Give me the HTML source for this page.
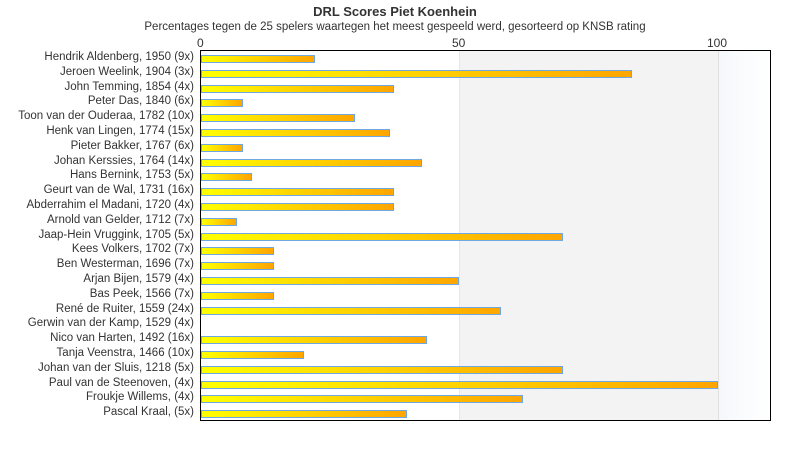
<!DOCTYPE html><html><head><style>
body{margin:0;width:790px;height:450px;background:#fff;font-family:"Liberation Sans","DejaVu Sans",sans-serif;color:#333;position:relative;overflow:hidden}
.t{position:absolute;left:0;width:790px;text-align:center}
.l{position:absolute;right:596px;font-size:11.5px;white-space:nowrap;line-height:14px}
.b{position:absolute;left:201px;height:6px;border:1px solid #6fa8e0;background:linear-gradient(90deg,#ffff00,#ffa500)}
.x{position:absolute;top:36px;font-size:12px}
</style></head><body>
<div class="t" style="top:4px;font-weight:bold;font-size:13px">DRL Scores Piet Koenhein</div>
<div class="t" style="top:21px;font-size:11.5px">Percentages tegen de 25 spelers waartegen het meest gespeeld werd, gesorteerd op KNSB rating</div>
<div class="x" style="left:197px">0</div><div class="x" style="left:452px">50</div><div class="x" style="left:707px">100</div>
<div style="position:absolute;left:459px;top:50px;width:259px;height:370px;background:#f3f3f3;border-left:1px solid #e6e6e6"></div>
<div style="position:absolute;left:718px;top:50px;width:52px;height:370px;background:linear-gradient(90deg,#f5f8fb,#fff);border-left:1px solid #e0e0e0"></div>
<div style="position:absolute;left:200px;top:50px;width:569px;height:369px;border:1px solid #000"></div>
<div id="c"></div>
<script>
var d=[["Hendrik Aldenberg, 1950 (9x)",315],["Jeroen Weelink, 1904 (3x)",632],["John Temming, 1854 (4x)",394],["Peter Das, 1840 (6x)",243],["Toon van der Ouderaa, 1782 (10x)",355],["Henk van Lingen, 1774 (15x)",390],["Pieter Bakker, 1767 (6x)",243],["Johan Kerssies, 1764 (14x)",422],["Hans Bernink, 1753 (5x)",252],["Geurt van de Wal, 1731 (16x)",394],["Abderrahim el Madani, 1720 (4x)",394],["Arnold van Gelder, 1712 (7x)",237],["Jaap-Hein Vruggink, 1705 (5x)",563],["Kees Volkers, 1702 (7x)",274],["Ben Westerman, 1696 (7x)",274],["Arjan Bijen, 1579 (4x)",459],["Bas Peek, 1566 (7x)",274],["René de Ruiter, 1559 (24x)",501],["Gerwin van der Kamp, 1529 (4x)",0],["Nico van Harten, 1492 (16x)",427],["Tanja Veenstra, 1466 (10x)",304],["Johan van der Sluis, 1218 (5x)",563],["Paul van de Steenoven,  (4x)",718],["Froukje Willems,  (4x)",523],["Pascal Kraal,  (5x)",407]];
var h="";d.forEach(function(r,i){var c=50+14.8*(i+.5);h+='<div class="l" style="top:'+(c-7.5)+'px">'+r[0]+'</div>';if(r[1])h+='<div class="b" style="top:'+(c-2.5)+'px;width:'+(r[1]-203)+'px"></div>';});
document.getElementById("c").innerHTML=h;
</script></body></html>
